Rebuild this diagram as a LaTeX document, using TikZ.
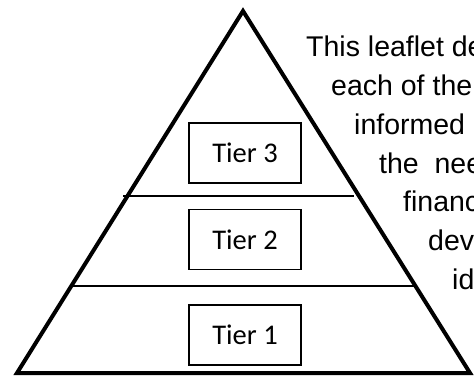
\documentclass[tikz,border=0pt]{standalone}
\usepackage{fontspec}
\setmainfont{Liberation Sans}
\newfontfamily\tierfont{Carlito}
\usepackage{tikz}
\tikzset{
  tierbox/.style={draw, line width=1.6pt, minimum width=112pt, minimum height=60pt, inner sep=0pt, font=\tierfont\fontsize{28.5}{30}\selectfont},
  leaflettext/.style={anchor=base west, inner sep=0pt, font=\fontsize{28.5}{30}\selectfont}
}

\begin{document}
\begin{tikzpicture}[x=1pt, y=-1pt]
      \useasboundingbox (0,0) rectangle (474,377);

      % Draw the pyramid outline
      \coordinate (apex) at (243,11);
      \coordinate (baseleft) at (17,373);
      \coordinate (baseright) at (470,373);
      \draw[line width=4pt] (apex) -- (baseright) -- (baseleft) -- cycle;

      % Lines between the tiers
      \coordinate (upleft) at (123,196);
      \coordinate (upright) at (354,196);
      \coordinate (lowleft) at (72,286);
      \coordinate (lowright) at (416,286);
      \draw[line width=1.4pt] (upleft) -- (upright);
      \draw[line width=1.4pt] (lowleft) -- (lowright);

      % The tier labels
      \node[tierbox] (tier3) at (245,153) {Tier 3};
      \node[tierbox] (tier2) at (245,239.5) {Tier 2};
      \node[tierbox] (tier1) at (245,335) {Tier 1};

      % Text running off the right edge
      \begin{scope}
        \clip (0,0) rectangle (474,377);
        \node[leaflettext] (line1) at (306,57) {This leaflet de};
        \node[leaflettext] (line2) at (331,95.7) {each of the};
        \node[leaflettext] (line3) at (354,134.4) {informed};
        \node[leaflettext] (line4) at (379,173.1) {the\ \ nee};
        \node[leaflettext] (line5) at (403,211.8) {financ};
        \node[leaflettext] (line6) at (428,250.5) {dev};
        \node[leaflettext] (line7) at (452,289.2) {id};
      \end{scope}
    \end{tikzpicture}
\end{document}
